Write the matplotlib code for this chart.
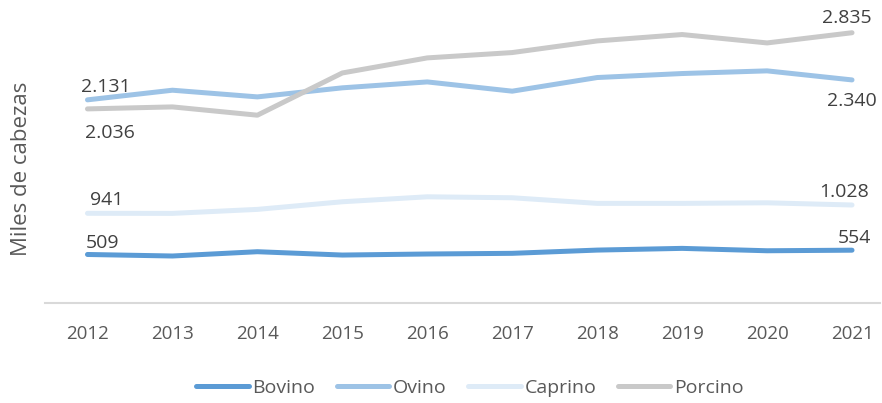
import matplotlib.pyplot as plt
from matplotlib.lines import Line2D

years = [2012, 2013, 2014, 2015, 2016, 2017, 2018, 2019, 2020, 2021]
bovino = [509, 493, 538, 503, 514, 521, 555, 573, 548, 554]
ovino = [2131, 2232, 2162, 2257, 2319, 2222, 2365, 2407, 2435, 2340]
caprino = [941, 940, 982, 1062, 1114, 1104, 1045, 1045, 1051, 1028]
porcino = [2036, 2057, 1970, 2413, 2571, 2627, 2749, 2816, 2728, 2835]

names = ["Bovino", "Ovino", "Caprino", "Porcino"]
colors = ["#5B9BD5", "#9DC3E6", "#DEEBF7", "#C9C9C9"]
series = [bovino, ovino, caprino, porcino]

W, H = 882, 403
fig = plt.figure(figsize=(W / 100, H / 100), dpi=100)
ax = fig.add_axes([45 / W, 1 - 303 / H, (880 - 45) / W, (303 - 17) / H])

x = list(range(len(years)))
for vals, col, name in zip(series, colors, names):
    ax.plot(x, vals, color=col, lw=3.6, solid_capstyle="round", label=name)

txt = dict(fontsize=14, color="#404040", family="Open Sans")
fmt = lambda v: f"{v:,}".replace(",", ".")

# first / last value labels
ax.annotate(fmt(bovino[0]), (0, bovino[0]), xytext=(11, 2), textcoords="offset points", ha="center", va="bottom", **txt)
ax.annotate(fmt(bovino[-1]), (9, bovino[-1]), xytext=(2, 2), textcoords="offset points", ha="center", va="bottom", **txt)
ax.annotate(fmt(caprino[0]), (0, caprino[0]), xytext=(14, 3), textcoords="offset points", ha="center", va="bottom", **txt)
ax.annotate(fmt(caprino[-1]), (9, caprino[-1]), xytext=(-6, 3), textcoords="offset points", ha="center", va="bottom", **txt)
ax.annotate(fmt(ovino[0]), (0, ovino[0]), xytext=(13, 3), textcoords="offset points", ha="center", va="bottom", **txt)
ax.annotate(fmt(ovino[-1]), (9, ovino[-1]), xytext=(0, -9), textcoords="offset points", ha="center", va="top", **txt)
ax.annotate(fmt(porcino[0]), (0, porcino[0]), xytext=(16, -11), textcoords="offset points", ha="center", va="top", **txt)
ax.annotate(fmt(porcino[-1]), (9, porcino[-1]), xytext=(-4, 4), textcoords="offset points", ha="center", va="bottom", **txt)

ax.set_xlim(-0.5, 9 + 28 / 85)
ax.set_ylim(0, 3000)
ax.set_xticks(x)
ax.set_xticklabels([str(y) for y in years], fontsize=13.5, color="#595959", family="Open Sans")
ax.tick_params(axis="x", length=0, pad=16)
ax.set_yticks([])
for s in ["top", "right", "left"]:
    ax.spines[s].set_visible(False)
ax.spines["bottom"].set_color("#D9D9D9")
ax.spines["bottom"].set_linewidth(1.5)

fig.text(22 / W, 1 - 169 / H, "Miles de cabezas", rotation=90, ha="center", va="center",
         fontsize=16, color="#595959", family="Open Sans")

handles = [Line2D([], [], color=c, lw=3.6, solid_capstyle="round") for c in colors]
fig.legend(handles, names, loc="center", bbox_to_anchor=(470 / W, 1 - 388 / H), ncol=4, frameon=False,
           handlelength=2.7, handletextpad=0.2, columnspacing=1.1,
           prop={"family": "Open Sans", "size": 14}, labelcolor="#595959")

fig.savefig("out.png", dpi=100)
